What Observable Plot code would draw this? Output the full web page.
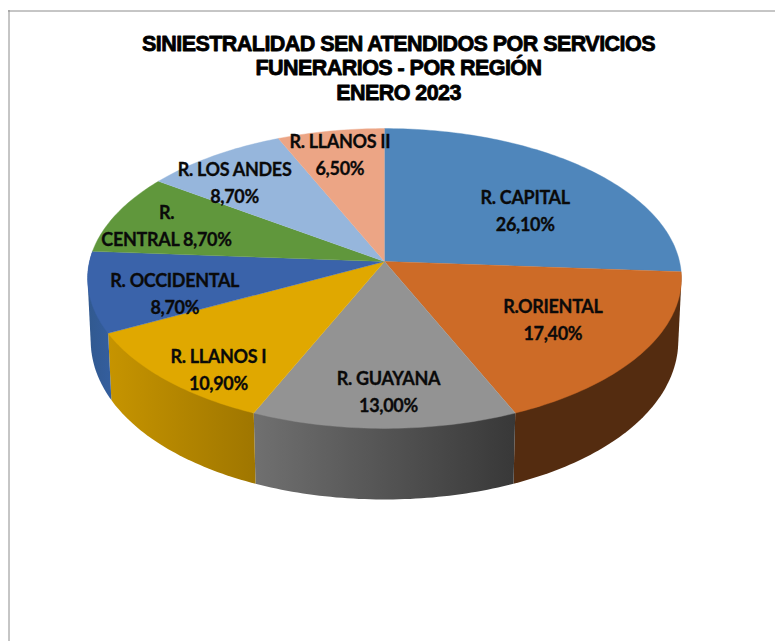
<!DOCTYPE html>
<html>
<head>
<meta charset="utf-8">
<script src="https://cdn.jsdelivr.net/npm/d3@7"></script>
<script src="https://cdn.jsdelivr.net/npm/@observablehq/plot@0.6"></script>
<style>
html,body{margin:0;padding:0;background:#fff}
svg{display:block}
.chart-title{letter-spacing:-0.55px}
.slice-label{letter-spacing:-0.32px}
</style>
</head>
<body>
<div id="chart"></div>
<script>
const titleText = "SINIESTRALIDAD SEN ATENDIDOS POR SERVICIOS\nFUNERARIOS - POR REGIÓN\nENERO 2023";
const regions = ["R. CAPITAL","R.ORIENTAL","R. GUAYANA","R. LLANOS I","R. OCCIDENTAL","R.\nCENTRAL","R. LOS ANDES","R. LLANOS II"];
const shares = [26.1,17.4,13.0,10.9,8.7,8.7,8.7,6.5];
const separators = ["\n","\n","\n","\n","\n"," ","\n","\n"];
const topColors = ["#4f86bb","#cd6b27","#939393","#e0a800","#3a63aa","#60973c","#96b6dc","#eca585"];
const wallFills = [null,"#542c10","url(#wallGray)","url(#wallGold)","url(#wallBlue)",null,null,null];
const labelNudgeX = [17,18,4,-39,-34,-55,-44,-11];
const labelNudgeY = [5,3,33,38,12,-8,-15,-27.5];

const W = 775, H = 641;
// perspective disc: top face and (smaller, lower) bottom face
const topFace = {cx:384, cy:261, R:295, S:148, kx:0.1133, ky:0.1133};
const baseFace = {cx:384, cy:321.8, R:292, S:163, kx:0.11, ky:0.08};
const project = (f, deg, r = 1) => {
  const a = deg * Math.PI / 180, u = r * Math.sin(a), v = -r * Math.cos(a);
  return {x: f.cx + f.R * u / (1 - f.kx * v), y: f.cy + f.S * v / (1 - f.ky * v)};
};
const arc = (f, a0, a1) => d3.range(0, 1.0001, 1 / Math.max(2, Math.ceil(Math.abs(a1 - a0))))
  .map(t => project(f, a0 + (a1 - a0) * t));
const hull = pts => d3.polygonHull(pts.map(p => [p.x, p.y])).map(([x, y]) => ({x, y}));

let acc = 0;
const slices = shares.map((s, i) => {
  const a0 = acc * 3.6; acc += s; const a1 = acc * 3.6;
  return {i, a0, a1, mid: (a0 + a1) / 2};
});
const label = slices.map(s => ({
  ...project(topFace, s.mid, 0.6),
  text: regions[s.i] + separators[s.i] + shares[s.i].toFixed(2).replace(".", ",") + "%"
}));

const gradient = (id, from, to) => {
  const g = d3.create("svg:linearGradient").attr("id", id);
  g.append("stop").attr("offset", "0%").attr("stop-color", from);
  g.append("stop").attr("offset", "100%").attr("stop-color", to);
  return g.node();
};
const defs = () => {
  const d = d3.create("svg:defs");
  d.append(() => gradient("wallGray", "#707070", "#383838"));
  d.append(() => gradient("wallGold", "#c69400", "#9f7600"));
  d.append(() => gradient("wallBlue", "#31598f", "#345e9e"));
  return d.node();
};

const walls = slices.filter(s => wallFills[s.i]).map(s =>
  Plot.line(hull([...arc(topFace, s.a0, s.a1), ...arc(baseFace, s.a1, s.a0)]),
    {x:"x", y:"y", fill:wallFills[s.i], stroke:"none", curve:"linear"}));
const tops = slices.map(s =>
  Plot.line([project(topFace, 0, 0), ...arc(topFace, s.a0, s.a1)],
    {x:"x", y:"y", fill:topColors[s.i], stroke:topColors[s.i], strokeWidth:0.4, curve:"linear"}));
const labels = label.map((l, i) =>
  Plot.text([l], {x:"x", y:"y", text:"text", dx:labelNudgeX[i], dy:labelNudgeY[i], className:"slice-label",
    fontFamily:"Lato", fontWeight:700, fontSize:18, lineHeight:1.5, fill:"#0a0a0a",
    stroke:"#0a0a0a", strokeWidth:0.3, lineAnchor:"middle"}));

const chart = Plot.plot({
  width:W, height:H, margin:0,
  x:{domain:[0,W], range:[0,W], axis:null},
  y:{domain:[0,H], range:[0,H], axis:null},
  style:{background:"#fff"},
  marks:[
    defs,
    Plot.ruleX([8.5], {y1:10, y2:H, stroke:"#8c8c8c", strokeWidth:1}),
    Plot.ruleY([10.5], {x1:8, x2:W, stroke:"#8c8c8c", strokeWidth:1}),
    ...walls,
    ...tops,
    ...labels,
    Plot.text([titleText], {x:()=>398, y:()=>67, text:d=>d, className:"chart-title",
      fontFamily:"Liberation Sans", fontWeight:700, fontSize:21.5, lineHeight:1.14,
      fill:"#000", stroke:"#000", strokeWidth:0.8, lineAnchor:"middle"})
  ]
});
document.getElementById("chart").append(chart);
</script>
</body>
</html>
